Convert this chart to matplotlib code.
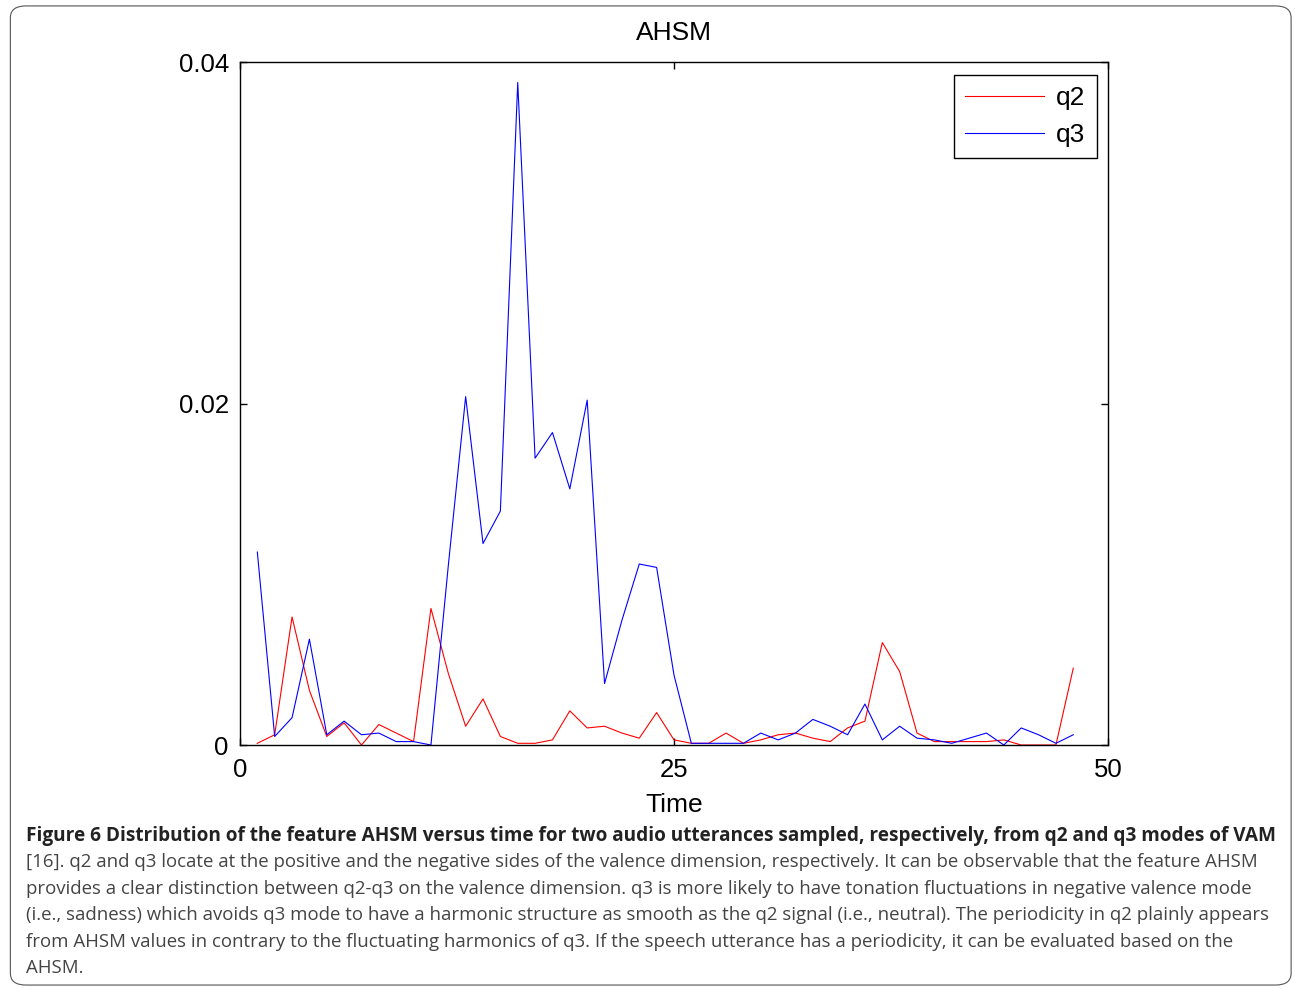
import numpy as np
import matplotlib.pyplot as plt
from matplotlib.patches import FancyBboxPatch

time = np.arange(1, 49)
q2 = [0.0001, 0.0006, 0.0075, 0.0032, 0.0005, 0.0013, 0.0000, 0.0012, 0.0007, 0.0002,
      0.0080, 0.0042, 0.0011, 0.0027, 0.0005, 0.0001, 0.0001, 0.0003, 0.0020, 0.0010,
      0.0011, 0.0007, 0.0004, 0.0019, 0.0003, 0.0001, 0.0001, 0.0007, 0.0001, 0.0003,
      0.0006, 0.0007, 0.0004, 0.0002, 0.0010, 0.0014, 0.0060, 0.0043, 0.0007, 0.0002,
      0.0002, 0.0002, 0.0002, 0.0003, 0.0000, 0.0000, 0.0000, 0.0045]
q3 = [0.0113, 0.0005, 0.0016, 0.0062, 0.0006, 0.0014, 0.0006, 0.0007, 0.0002, 0.0002,
      0.0000, 0.0105, 0.0204, 0.0118, 0.0137, 0.0388, 0.0168, 0.0183, 0.0150, 0.0202,
      0.0036, 0.0073, 0.0106, 0.0104, 0.0041, 0.0001, 0.0001, 0.0001, 0.0001, 0.0007,
      0.0003, 0.0007, 0.0015, 0.0011, 0.0006, 0.0024, 0.0003, 0.0011, 0.0004, 0.0003,
      0.0001, 0.0004, 0.0007, 0.0000, 0.0010, 0.0006, 0.0001, 0.0006]

caption_title = ("Figure 6 Distribution of the feature AHSM versus time for two audio "
                 "utterances sampled, respectively, from q2 and q3 modes of VAM")
caption_lines = [
    "[16]. q2 and q3 locate at the positive and the negative sides of the valence dimension, respectively. It can be observable that the feature AHSM",
    "provides a clear distinction between q2-q3 on the valence dimension. q3 is more likely to have tonation fluctuations in negative valence mode",
    "(i.e., sadness) which avoids q3 mode to have a harmonic structure as smooth as the q2 signal (i.e., neutral). The periodicity in q2 plainly appears",
    "from AHSM values in contrary to the fluctuating harmonics of q3. If the speech utterance has a periodicity, it can be evaluated based on the",
    "AHSM.",
]

plt.rcParams['font.family'] = ['Liberation Sans', 'DejaVu Sans']

fig = plt.figure(figsize=(12.95, 9.89), dpi=100)
fig.patches.append(FancyBboxPatch((0.008, 0.004), 0.989, 0.99,
                                  boxstyle="round,pad=0,rounding_size=0.012",
                                  transform=fig.transFigure, fill=False,
                                  edgecolor="#555555", linewidth=0.8))

ax = fig.add_axes([0.1853, 0.2467, 0.6703, 0.6906])
ax.plot(time, q2, color="red", linewidth=0.8, label="q2")
ax.plot(time, q3, color="blue", linewidth=0.8, label="q3")
ax.set_xlim(0, 50)
ax.set_ylim(0, 0.04)
ax.set_xticks([0, 25, 50])
ax.set_xticklabels(["0", "25", "50"])
ax.set_yticks([0, 0.02, 0.04])
ax.set_yticklabels(["0", "0.02", "0.04"])
ax.tick_params(direction="in", top=True, right=True, labelsize=18.5, length=5, width=1)
ax.tick_params(axis="x", pad=9)
ax.tick_params(axis="y", pad=8)
for s in ax.spines.values():
    s.set_linewidth(1.0)
ax.set_title("AHSM", fontsize=19, pad=16)
ax.set_xlabel("Time", fontsize=19, labelpad=8)

leg = ax.legend(loc="upper right", bbox_to_anchor=(0.987, 0.981), fontsize=19,
                handlelength=3.0, fancybox=False, framealpha=1, borderpad=0.42,
                handletextpad=0.45, labelspacing=0.5, borderaxespad=0)
leg.get_frame().set_edgecolor("black")
leg.get_frame().set_linewidth(1.0)

fig.text(0.02, 0.1545, caption_title, fontsize=13.65, fontweight="bold",
         family=["Open Sans", "DejaVu Sans"], va="center", color="#222222")
for i, line in enumerate(caption_lines):
    fig.text(0.02, 0.1283 - i * 0.0268, line, fontsize=13.45,
             family=["Open Sans", "DejaVu Sans"], va="center", color="#444444")

plt.savefig("out.png", dpi=100)
